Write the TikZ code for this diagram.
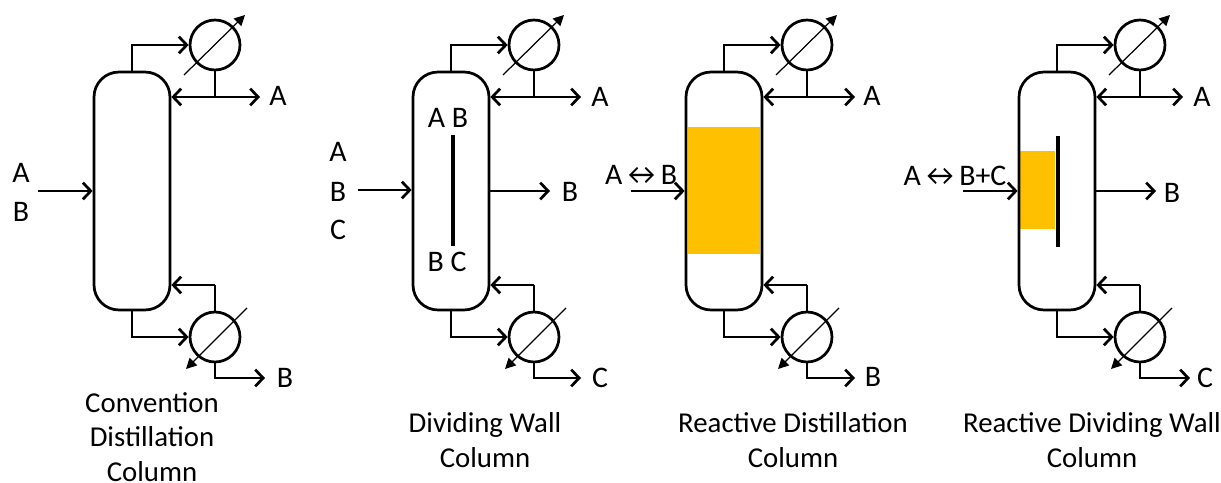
\documentclass[tikz,border=0pt]{standalone}
\usepackage{fontspec}
\setmainfont{Carlito}
\usetikzlibrary{arrows.meta}
\definecolor{catalystcolor}{RGB}{255,192,0}
\tikzset{
  flow/.style={line width=1.55pt,-{Straight Barb[length=4.5pt,width=9.5pt,line width=1.55pt]}},
  pipe/.style={line width=1.55pt},
  column/.style={draw,line width=1.55pt,rounded corners=0.5cm,minimum width=1.52cm,minimum height=4.76cm,inner sep=0pt},
  exchanger/.style={draw,circle,line width=1.55pt,minimum size=1cm,inner sep=0pt},
  utility/.style={line width=0.7pt,-{Triangle[length=6pt,width=6pt]}},
  wall/.style={line width=2.3pt},
  stream/.style={inner sep=0pt,font=\fontsize{17}{20}\selectfont},
  reaction/.style={inner sep=0pt,font=\fontsize{17}{20}\selectfont},
  caption/.style={inner sep=0pt,align=center,font=\fontsize{16.4}{19.6}\selectfont}
}
\begin{document}
\begin{tikzpicture}[x=0.02cm,y=-0.02cm]
  \useasboundingbox (0,0) rectangle (1221,483);
  \fill[catalystcolor] (688,127) rectangle (760,254);
  \fill[catalystcolor] (1020,151) rectangle (1055,229);
  \foreach \i/\dx/\endtop/\endbot in {1/0/260/265,2/319/262/262,3/592/263/263,4/925/258/265}{
    \begin{scope}[shift={(\dx,0)}]
      \node[column] (col\i) at (132,191) {};
      \node[exchanger] (cond\i) at (215,45) {};
      \node[exchanger] (reb\i) at (215,337) {};
      \coordinate (refl\i) at (215,97);
      \coordinate (boil\i) at (215,285);
      \coordinate (top\i) at (\endtop,97);
      \coordinate (bot\i) at (\endbot,378);
      \coordinate (condin\i) at (184,75);
      \coordinate (condout\i) at (245,15);
      \coordinate (rebin\i) at (247,308);
      \coordinate (rebout\i) at (186,369);
      \draw[flow] (col\i.north) |- (cond\i.west);
      \draw[flow] (col\i.south) |- (reb\i.west);
      \draw[pipe] (cond\i.south) -- (refl\i);
      \draw[flow] (refl\i) -- (top\i);
      \draw[flow] (refl\i) -- (refl\i -| col\i.east);
      \draw[pipe] (reb\i.north) -- (boil\i);
      \draw[flow] (boil\i) -- (boil\i -| col\i.east);
      \draw[flow] (reb\i.south) |- (bot\i);
      \draw[utility] (condin\i) -- (condout\i);
      \draw[utility] (rebin\i) -- (rebout\i);
    \end{scope}
  }
  \node[stream] (a1) at (278,96) {A};
  \node[stream] (b1) at (285,378) {B};
  \node[stream] (fa1) at (21,173) {A};
  \node[stream] (fb1) at (21,212) {B};
  \coordinate (feed1) at (38,191);
  \draw[flow] (feed1) -- (feed1 -| col1.west);
  \node[stream] (a2) at (600,97) {A};
  \node[stream] (b2) at (570,192) {B};
  \node[stream] (c2) at (600,378) {C};
  \node[stream] (fa2) at (338,152) {A};
  \node[stream] (fb2) at (338,192) {B};
  \node[stream] (fc2) at (338,230) {C};
  \node[stream] (ab2) at (448,118) {A B};
  \node[stream] (bc2) at (447,262) {B C};
  \coordinate (feed2) at (358,190);
  \coordinate (side2) at (550,191);
  \coordinate (walltop2) at (453,135);
  \coordinate (wallbot2) at (453,246);
  \draw[flow] (feed2) -- (feed2 -| col2.west);
  \draw[flow] (side2 -| col2.east) -- (side2);
  \draw[wall] (walltop2) -- (wallbot2);
  \node[stream] (a3) at (872,96) {A};
  \node[stream] (b3) at (873,377) {B};
  \node[reaction] (rxn3) at (641,175) {A↔B};
  \coordinate (feed3) at (631,191);
  \draw[flow] (feed3) -- (feed3 -| col3.west);
  \node[stream] (a4) at (1202,97) {A};
  \node[stream] (b4) at (1172,193) {B};
  \node[stream] (c4) at (1205,378) {C};
  \node[reaction] (rxn4) at (955,176) {A↔B+C};
  \coordinate (feed4) at (963,191);
  \coordinate (side4) at (1156,191);
  \coordinate (walltop4) at (1058,136);
  \coordinate (wallbot4) at (1058,247);
  \draw[flow] (feed4) -- (feed4 -| col4.west);
  \draw[flow] (side4 -| col4.east) -- (side4);
  \draw[wall] (walltop4) -- (wallbot4);
  \node[caption] (name1) at (152,437) {Convention\\Distillation\\Column};
  \node[caption] (name2) at (485,440) {Dividing Wall\\Column};
  \node[caption] (name3) at (793,440) {Reactive Distillation\\Column};
  \node[caption] (name4) at (1092,440) {Reactive Dividing Wall\\Column};
\end{tikzpicture}
\end{document}
